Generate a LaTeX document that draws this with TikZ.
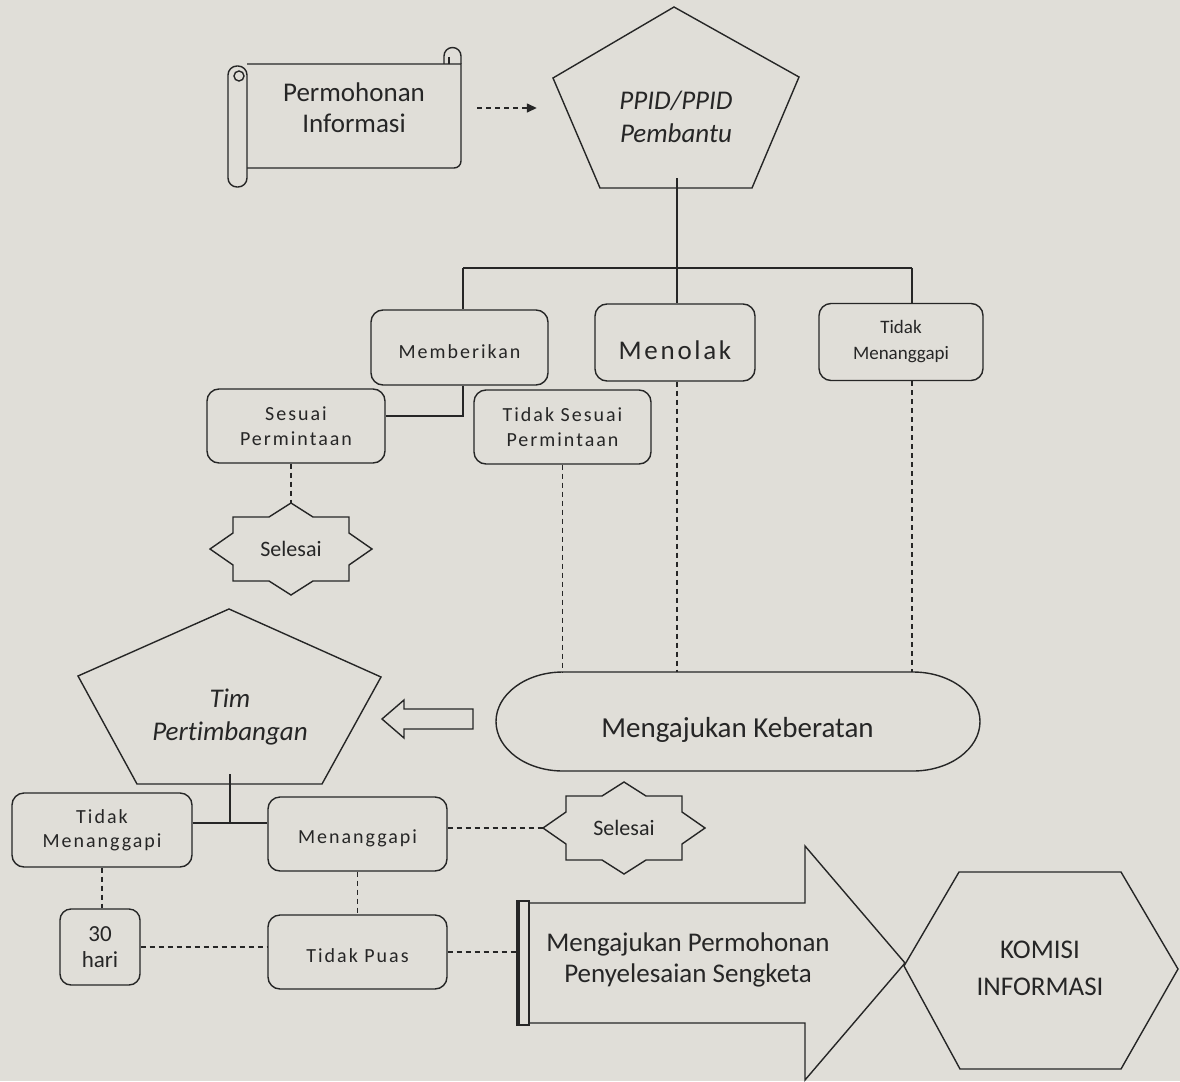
\documentclass[tikz,border=0pt]{standalone}
\usepackage{fontspec}
\setmainfont[Ligatures=NoCommon]{Carlito}
\newfontfamily\spaced[LetterSpace=10]{Carlito}
\usetikzlibrary{arrows.meta,calc}
\definecolor{paper}{RGB}{224,222,216}
\definecolor{ink}{RGB}{38,38,38}
\tikzset{
  txt/.style={align=center,text=ink,inner sep=0pt},
  roundbox/.style={txt,draw=ink,line width=1.4pt,rounded corners=12pt},
  link/.style={draw=ink,line width=1.4pt},
  dlink/.style={link,dash pattern=on 5pt off 4pt},
  small/.style={font=\spaced\fontsize{20}{25}\selectfont},
  big/.style={font=\fontsize{27}{31}\selectfont},
  starframe/.pic={\draw[link] (0,-46) -- (22,-32) -- (58,-32) -- (58,-16) -- (81,0) -- (58,16) -- (58,32) -- (22,32) -- (0,46) -- (-22,32) -- (-58,32) -- (-58,16) -- (-81,0) -- (-58,-16) -- (-58,-32) -- (-22,-32) -- cycle;}
}
\begin{document}
\begin{tikzpicture}[x=1pt,y=-1pt]
\fill[paper] (0,0) rectangle (1180,1081);
\useasboundingbox (0,0) rectangle (1180,1081);

\draw[link] (247,64) -- (461,64) -- (461,161) arc (0:90:7) -- (247,168);
\draw[link] (444,64) -- (444,56) arc (180:360:8.5) -- (461,64);
\draw[link] (449,57) -- (449,64);
\draw[link,fill=paper,rounded corners=9pt] (228,66) rectangle (247,187);
\draw[link] (239,76) circle (5);
\node[txt,big,minimum width=214pt] (permohonan) at (354,108) {Permohonan\\Informasi};

\draw[link] (674,7) -- (799,77) -- (752,188) -- (600,188) -- (553,78) -- cycle;
\node[txt,font=\itshape\fontsize{27}{33}\selectfont,minimum width=246pt] (ppid) at (676,117) {PPID/PPID\\Pembantu};

\node[roundbox,small,text height=23pt,minimum width=177pt,minimum height=75pt] (memberikan) at (459.5,347.5) {Memberikan};
\node[roundbox,font=\spaced\fontsize{27}{32}\selectfont,text height=35pt,minimum width=160pt,minimum height=77pt] (menolak) at (675,342.5) {Menolak};
\node[roundbox,font=\fontsize{19}{26}\selectfont,minimum width=164pt,minimum height=77pt] (tmA) at (901,342) {Tidak\\Menanggapi};
\node[roundbox,small,minimum width=178pt,minimum height=74pt] (sesuai) at (296,426) {Sesuai\\Permintaan};
\node[roundbox,small,minimum width=177pt,minimum height=74pt] (tidaksesuai) at (562.5,427) {Tidak Sesuai\\Permintaan};

\node[txt,font=\fontsize{22}{26}\selectfont,minimum width=162pt,minimum height=90pt] (selesaiA) at (291,549) {Selesai};
\pic at (selesaiA) {starframe};

\node[txt,font=\fontsize{29}{35}\selectfont,text height=38pt,text depth=6pt,minimum width=485pt,minimum height=99pt] (keberatan) at (737.5,721.5) {Mengajukan Keberatan};
\draw[link] (563,672) -- (913,672) arc (-90:90:67 and 49.5) -- (563,771) arc (90:270:67 and 49.5) -- cycle;

\draw[link] (382,719) -- (404,700) -- (404,709) -- (473,709) -- (473,729) -- (404,729) -- (404,738) -- cycle;

\draw[link] (229,609) -- (381,677) -- (322,784) -- (137,784) -- (78,676) -- cycle;
\node[txt,font=\itshape\fontsize{27}{33}\selectfont] (tim) at (230,717) {Tim\\Pertimbangan};

\node[roundbox,font=\spaced\fontsize{20}{24}\selectfont,minimum width=180pt,minimum height=74pt] (tmB) at (102,830) {Tidak\\Menanggapi};
\node[roundbox,small,text height=23pt,text depth=4pt,minimum width=179pt,minimum height=74pt] (menanggapi) at (357.5,834) {Menanggapi};
\node[txt,font=\fontsize{22}{26}\selectfont,minimum width=162pt,minimum height=92pt] (selesaiB) at (624,828) {Selesai};
\pic at (selesaiB) {starframe};
\node[roundbox,rounded corners=11pt,font=\fontsize{23}{26}\selectfont,minimum width=80pt,minimum height=76pt] (hari) at (100,947) {30\\hari};
\node[roundbox,small,text height=21pt,minimum width=179pt,minimum height=74pt] (puas) at (357.5,952) {Tidak Puas};

\coordinate (bar) at (517,963);
\draw[link] (529,903) -- (805,903) -- (805,846) -- (905,963) -- (805,1080) -- (805,1023) -- (529,1023);
\draw[link] (517,901) rectangle (529,1025);
\draw[ink,line width=3.5pt] (518.5,901) -- (518.5,1025);
\node[txt,big] (sengketa) at (688,960) {Mengajukan Permohonan\\Penyelesaian Sengketa};

\draw[link] (904,966) -- (959,872) -- (1121,872) -- (1178,969) -- (1121,1069) -- (960,1069) -- cycle;
\node[txt,font=\fontsize{27}{37}\selectfont] (komisi) at (1040,968) {KOMISI\\INFORMASI};

\draw[dlink,shorten <=16pt,shorten >=16pt,-{Triangle[length=10pt,width=9pt]}] (permohonan.east) -- (permohonan.east -| ppid.west);

\coordinate (ppidfoot) at (677,178);
\coordinate (busL) at (463,268);
\coordinate (busR) at (912,268);
\draw[link] (ppidfoot) -- (ppidfoot |- busL);
\draw[link] (busL) -- (busR);
\draw[link] (busL) -- (busL |- memberikan.north);
\draw[link] (ppidfoot |- busL) -- (ppidfoot |- menolak.north);
\draw[link] (busR) -- (busR |- tmA.north);

\coordinate (givejoin) at (463,416);
\draw[link] (busL |- memberikan.south) -- (givejoin) -- (givejoin -| sesuai.east);
\draw[dlink] (selesaiA.north |- sesuai.south) -- (selesaiA.north);

\draw[dlink] (tidaksesuai.south) -- (tidaksesuai.south |- keberatan.north);
\draw[dlink] (ppidfoot |- menolak.south) -- (ppidfoot |- keberatan.north);
\draw[dlink] (busR |- tmA.south) -- (busR |- keberatan.north);

\coordinate (timfoot) at (230,774);
\coordinate (timjoin) at (230,823);
\draw[link] (timfoot) -- (timjoin);
\draw[link] (tmB.east |- timjoin) -- (menanggapi.west |- timjoin);
\draw[dlink] (menanggapi.east |- selesaiB.west) -- (selesaiB.west);
\draw[dlink] (tmB.south) -- (tmB.south |- hari.north);
\draw[dlink] (hari.east) -- (hari.east -| puas.west);
\draw[dlink] (menanggapi.south) -- (puas.north);
\draw[dlink] (puas.east) -- (puas.east -| bar);
\end{tikzpicture}
\end{document}
